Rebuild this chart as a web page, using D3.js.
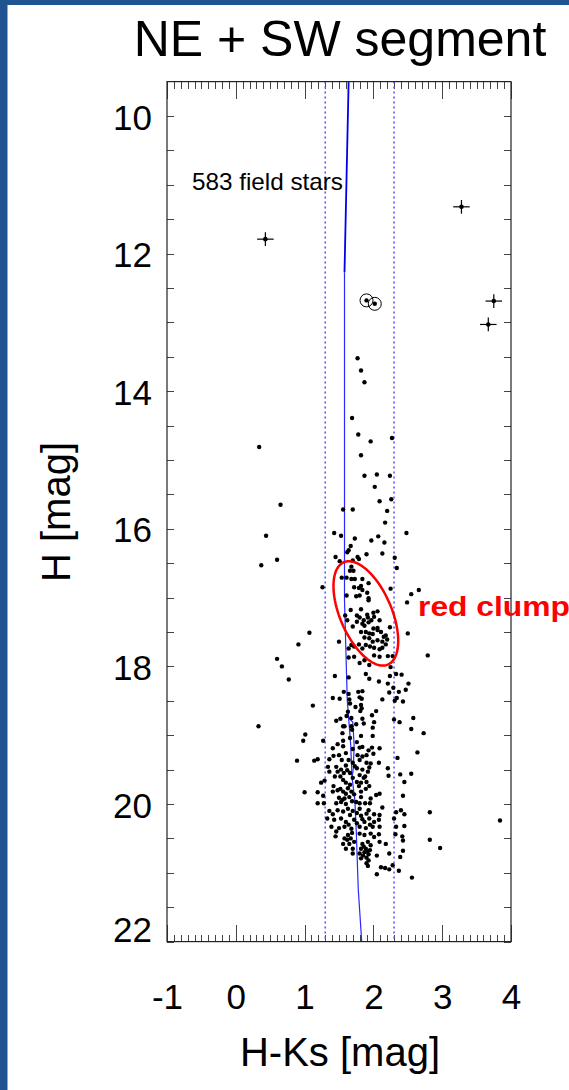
<!DOCTYPE html>
<html>
<head>
<meta charset="utf-8">
<script src="https://d3js.org/d3.v7.min.js"></script>
<style>
    body { margin: 0; padding: 0; }
    svg { display: block; font-family: "Liberation Sans", Arial, Helvetica, sans-serif; }
    .axis path { display: none; }
    .axis line { stroke: #444; stroke-width: 1; shape-rendering: crispEdges; }
    .axis text { fill: #000; font-size: 35px; }
</style>
</head>
<body>
<svg id="cmd" width="569" height="1090"></svg>
<script>
// ---- data (H-Ks colour, H magnitude) ----
var xTickLabels = [-1, 0, 1, 2, 3, 4];
var yTickLabels = [10, 12, 14, 16, 18, 20, 22];
var cutColors = [1.3, 2.3];

var fieldStars = [
  [1.77,13.52],[1.82,13.70],[1.87,13.87],[1.69,14.39],[1.78,14.63],[1.96,14.73],[2.27,14.68],[0.34,14.81],
  [1.82,14.93],[1.87,15.23],[2.05,15.21],[2.24,15.23],[2.02,15.39],[2.09,15.60],[2.26,15.57],[0.65,15.65],
  [1.56,15.72],[1.70,15.72],[2.20,15.74],[2.17,15.91],[0.44,16.10],[1.43,16.06],[1.53,16.10],[1.73,16.14],
  [2.48,16.06],[1.97,16.17],[2.07,16.11],[2.16,16.20],[1.67,16.25],[1.64,16.31],[1.62,16.34],[1.90,16.37],
  [2.13,16.36],[0.37,16.53],[0.60,16.45],[1.45,16.41],[1.51,16.47],[1.70,16.46],[1.77,16.41],[1.79,16.44],
  [2.31,16.42],[2.34,16.57],[1.68,16.55],[1.71,16.61],[1.66,16.61],[1.54,16.71],[1.61,16.71],[1.68,16.73],
  [1.73,16.73],[1.84,16.73],[1.93,16.79],[1.82,16.83],[1.79,16.86],[1.72,16.85],[1.84,16.89],[1.91,16.93],
  [1.26,16.85],[2.25,16.87],[2.55,16.95],[2.66,16.89],[2.49,17.07],[1.61,16.97],[1.75,16.98],[1.80,16.97],
  [1.93,17.01],[1.93,17.04],[1.67,17.18],[1.82,17.17],[2.00,17.22],[2.06,17.20],[1.59,17.26],[1.76,17.26],
  [1.80,17.29],[1.91,17.25],[1.92,17.29],[1.62,17.33],[1.86,17.33],[1.93,17.36],[1.70,17.42],[1.87,17.41],
  [2.06,17.44],[2.24,17.43],
  [1.97,17.33],[2.01,17.28],[2.09,17.33],[1.76,17.35],[1.84,17.38],[2.00,17.45],[2.06,17.47],[2.11,17.50],
  [2.15,17.57],[2.18,17.55],[1.82,17.50],[1.89,17.50],[1.94,17.52],[1.99,17.53],[1.87,17.58],[1.94,17.59],
  [1.99,17.64],[2.06,17.62],[2.13,17.64],[2.20,17.61],[1.68,17.69],[1.64,17.74],[1.72,17.71],[1.79,17.68],
  [1.84,17.74],[1.89,17.69],[1.95,17.71],[2.01,17.73],[2.09,17.75],[2.13,17.73],[2.18,17.68],[1.50,17.64],
  [1.64,17.87],[1.72,17.86],[1.80,17.95],[1.87,17.91],[1.94,17.98],[2.01,17.84],[2.09,17.86],[2.21,17.85],
  [2.28,17.85],[2.50,17.52],
  [1.07,17.51],[0.91,17.68],[0.60,17.89],[0.67,18.00],[0.77,18.19],[2.79,17.84],[2.25,18.01],
  [1.44,18.14],[1.64,18.16],[1.89,18.11],[1.94,18.18],[2.08,18.22],[2.24,18.14],[2.33,18.11],[2.41,18.12],
  [2.51,18.25],[2.47,18.34],[2.37,18.37],[2.29,18.31],[2.21,18.25],[2.23,18.38],[2.34,18.46],[2.31,18.50],
  [2.43,18.51],[2.13,18.48],[2.04,18.65],[1.84,18.36],[1.78,18.37],[1.57,18.37],[1.51,18.47],[1.41,18.46],
  [1.64,18.40],[1.65,18.48],[1.66,18.54],[1.80,18.45],[1.83,18.47],[1.12,18.57],[1.74,18.59],[1.82,18.56],
  [1.83,18.61],[1.81,18.65],[1.63,18.66],[1.61,18.72],[1.68,18.75],[1.75,18.84],[1.84,18.76],[1.86,18.83],
  [1.98,18.71],[2.01,18.81],[1.99,18.89],[1.52,18.76],[1.46,18.79],[1.56,18.87],[1.58,18.87],[1.68,18.87],
  [1.69,18.92],[1.55,18.97],[1.66,19.04],[1.76,19.10],[1.82,19.01],[1.99,19.01],[1.48,19.13],[1.56,19.08],
  [1.27,19.08],[1.01,18.99],[0.98,19.08],[2.30,18.77],[2.38,18.81],[2.58,18.75],[2.55,18.91],[2.73,18.97],
  [0.33,18.87],
  [1.41,19.19],[1.56,19.16],[1.80,19.18],[1.84,19.17],[1.98,19.18],[2.09,19.19],[0.89,19.37],[1.14,19.37],
  [1.19,19.35],[1.36,19.35],[1.42,19.30],[1.50,19.29],[1.60,19.26],[1.77,19.29],[1.84,19.31],[1.90,19.29],
  [2.00,19.27],[1.80,19.36],[1.90,19.40],[1.96,19.41],[2.08,19.40],[2.35,19.33],[2.64,19.25],[1.34,19.46],
  [1.46,19.46],[1.53,19.50],[1.60,19.44],[1.62,19.51],[1.36,19.53],[1.48,19.53],[1.57,19.55],[1.76,19.48],
  [1.84,19.50],[1.92,19.53],[1.94,19.47],[1.80,19.58],[1.88,19.60],[2.21,19.48],[2.22,19.59],[2.39,19.57],
  [2.55,19.56],[2.45,19.68],[1.24,19.69],[1.29,19.66],[1.56,19.65],[1.60,19.69],[1.66,19.72],[1.76,19.68],
  [1.82,19.69],[1.90,19.68],[1.94,19.74],[1.64,19.36],[1.66,19.55],[1.54,19.36],
  [1.70,19.40],[1.73,19.45],[1.70,19.62],[1.86,19.62],[1.52,19.60],[1.44,19.60],[1.70,19.20],[1.93,19.22],
  [1.00,19.83],[1.19,19.83],[1.27,19.88],[1.19,19.99],[1.28,19.99],[1.41,19.82],[1.42,19.74],[1.48,19.80],
  [1.56,19.82],[1.63,19.77],[1.68,19.82],[1.79,19.74],[1.82,19.82],[1.89,19.78],[1.50,19.91],[1.58,19.92],
  [1.65,19.90],[1.82,19.90],[1.96,19.92],[2.04,19.87],[2.09,19.85],[2.43,19.88],[1.46,19.99],[1.53,19.97],
  [1.60,20.00],[1.69,19.96],[1.80,19.99],[1.88,19.99],[1.95,19.99],[1.36,20.10],[1.41,20.15],[1.48,20.09],
  [1.56,20.11],[1.63,20.07],[1.66,20.16],[1.80,20.07],[1.82,20.17],[1.90,20.14],[1.93,20.09],[2.01,20.15],
  [2.13,20.05],[2.09,20.16],[2.33,20.12],[2.40,20.09],[2.45,20.15],[2.82,20.12],[1.33,20.21],[1.43,20.23],
  [1.53,20.21],[1.60,20.26],[1.72,20.23],[1.87,20.26],[1.94,20.21],[2.01,20.26],[2.08,20.23],[2.30,20.21],
  [1.39,20.33],[1.50,20.35],[1.58,20.33],[1.68,20.36],[1.80,20.33],[1.89,20.35],[1.99,20.33],[2.09,20.33],
  [2.33,20.33],[2.45,20.32],
  [1.52,19.78],[1.60,19.85],[1.72,19.86],[1.55,19.94],[1.75,19.97],[1.70,20.10],[1.76,20.13],[1.84,20.22],
  [1.76,20.28],[1.64,20.30],[1.95,20.30],
  [1.46,20.40],[1.45,20.47],[1.58,20.50],[1.63,20.45],[1.69,20.42],[1.80,20.43],[1.87,20.45],[1.96,20.43],
  [2.08,20.44],[2.01,20.48],[2.09,20.55],[2.18,20.58],[2.32,20.44],[2.42,20.47],[2.43,20.53],[2.82,20.52],
  [1.56,20.58],[1.65,20.58],[1.72,20.55],[1.84,20.58],[1.92,20.55],[1.96,20.60],[1.60,20.65],[1.70,20.65],
  [1.82,20.65],[1.89,20.65],[1.70,20.72],[1.80,20.72],[1.87,20.70],[1.93,20.73],[2.05,20.75],[2.23,20.72],
  [2.39,20.77],[2.43,20.68],[1.82,20.79],[1.90,20.78],[1.93,20.82],[1.90,20.86],[1.92,20.90],[2.28,20.89],
  [2.11,20.92],[2.17,20.93],[2.23,20.95],[2.37,20.97],[2.05,21.02],[2.56,21.07],
  [1.86,20.62],[1.91,20.69],[1.85,20.75],[1.95,20.67],[1.62,20.52],[1.67,20.50],
  [3.84,20.24],[2.97,20.64]
];

// bright stars with error bars
var errStars = [
  {c: 0.43, h: 11.79, ec: 0.12, eh: 0.10},
  {c: 3.28, h: 11.32, ec: 0.12, eh: 0.10},
  {c: 3.75, h: 12.69, ec: 0.12, eh: 0.10},
  {c: 3.67, h: 13.03, ec: 0.12, eh: 0.10}
];
// circled stars
var circledStars = [[1.90, 12.68], [2.02, 12.73]];

// isochrone (upper bright part, lower main part, small loop)
var isoUpper = [[1.64, 9.5], [1.58, 12.27]];
var isoLower = [[1.58, 12.27], [1.58, 15.58], [1.58, 17.04], [1.62, 18.49], [1.64, 18.75], [1.67, 19.14],
                [1.69, 19.62], [1.73, 19.94], [1.75, 20.37], [1.78, 21.24], [1.83, 22.0]];
var isoLoop = [[1.64, 18.75], [1.70, 18.81], [1.72, 19.14], [1.71, 19.47], [1.69, 19.62]];

// red clump ellipse: centre, semi axes (mag), tilt (deg)
var clumpCentre = [1.89, 17.23];
var clumpAxes = [0.81, 0.375];
var clumpTilt = 66.7;

// ---- layout ----
var svg = d3.select("#cmd");
var W = 569, H = 1090;
var plot = {left: 167, right: 511, top: 81.6, bottom: 941.6};

var x = d3.scaleLinear().domain([-1, 4]).range([plot.left, plot.right]);
var y = d3.scaleLinear().domain([9.5, 22]).range([plot.top, plot.bottom]);

// slide background
svg.append("rect").attr("width", W).attr("height", H).attr("fill", "#1f5391");
svg.append("rect").attr("x", 7.5).attr("y", 5).attr("width", W - 7.5).attr("height", H - 5).attr("fill", "#fff");

// title
svg.append("text")
    .attr("x", 340).attr("y", 56)
    .attr("text-anchor", "middle")
    .style("font-size", "50px")
    .text("NE + SW segment");

// y axes (ticks every 0.5 mag, pointing inwards)
var yTicks = d3.range(10, 22.001, 0.5);
svg.append("g").attr("class", "axis")
    .attr("transform", "translate(" + plot.left + ",0)")
    .call(d3.axisLeft(y).tickValues(yTicks).tickSizeInner(-7).tickSizeOuter(0).tickPadding(15)
        .tickFormat(function(d) { return yTickLabels.indexOf(d) >= 0 ? String(d) : ""; }))
    .selectAll("text")
    .attr("dy", null)
    .attr("y", function(d) { return Math.min(13, plot.bottom - y(d)); });

svg.append("g").attr("class", "axis")
    .attr("transform", "translate(" + plot.right + ",0)")
    .call(d3.axisRight(y).tickValues(yTicks).tickSizeInner(-7).tickSizeOuter(0).tickFormat(""));

// x axes: minor every 0.1, major at integers
var xMinor = d3.range(-1, 4.0001, 0.1).map(function(d) { return Math.round(d * 10) / 10; });
svg.append("g").attr("class", "axis")
    .attr("transform", "translate(0," + plot.bottom + ")")
    .call(d3.axisBottom(x).tickValues(xMinor).tickSizeInner(-7).tickSizeOuter(0).tickFormat(""));
svg.append("g").attr("class", "axis")
    .attr("transform", "translate(0," + plot.bottom + ")")
    .call(d3.axisBottom(x).tickValues(xTickLabels).tickSizeInner(-17).tickSizeOuter(0).tickPadding(43)
        .tickFormat(function(d) { return String(d); }));
svg.append("g").attr("class", "axis")
    .attr("transform", "translate(0," + plot.top + ")")
    .call(d3.axisTop(x).tickValues(xMinor).tickSizeInner(-7).tickSizeOuter(0).tickFormat(""));
svg.append("g").attr("class", "axis")
    .attr("transform", "translate(0," + plot.top + ")")
    .call(d3.axisTop(x).tickValues(xTickLabels).tickSizeInner(-17).tickSizeOuter(0).tickFormat(""));

// axis titles
svg.append("text")
    .attr("x", 340).attr("y", 1066)
    .attr("text-anchor", "middle")
    .style("font-size", "40px")
    .text("H-Ks [mag]");
svg.append("text")
    .attr("transform", "translate(70," + 512 + ") rotate(-90)")
    .attr("text-anchor", "middle")
    .style("font-size", "40px")
    .text("H [mag]");

// colour cut lines
svg.selectAll(".cut").data(cutColors).enter().append("line")
    .attr("class", "cut")
    .attr("x1", function(d) { return x(d); }).attr("x2", function(d) { return x(d); })
    .attr("y1", plot.top).attr("y2", plot.bottom)
    .attr("stroke", "#5a5aff").attr("stroke-width", 1.6)
    .attr("stroke-dasharray", "2,3");

// isochrone
var line = d3.line().x(function(d) { return x(d[0]); }).y(function(d) { return y(d[1]); });
svg.append("path").datum(isoUpper).attr("d", line)
    .attr("fill", "none").attr("stroke", "#0000ee").attr("stroke-width", 1.8);
svg.append("path").datum(isoLower).attr("d", line)
    .attr("fill", "none").attr("stroke", "#2828ff").attr("stroke-width", 1.2);
svg.append("path").datum(isoLoop).attr("d", line)
    .attr("fill", "none").attr("stroke", "#2828ff").attr("stroke-width", 1.2);

// field stars
svg.append("g").selectAll("circle").data(fieldStars).enter().append("circle")
    .attr("cx", function(d) { return x(d[0]); })
    .attr("cy", function(d) { return y(d[1]); })
    .attr("r", 2.2)
    .attr("fill", "#000");

// stars with error bars
var eb = svg.append("g").selectAll("g").data(errStars).enter().append("g");
eb.append("line")
    .attr("x1", function(d) { return x(d.c - d.ec); }).attr("x2", function(d) { return x(d.c + d.ec); })
    .attr("y1", function(d) { return y(d.h); }).attr("y2", function(d) { return y(d.h); })
    .attr("stroke", "#000").attr("stroke-width", 1.2);
eb.append("line")
    .attr("x1", function(d) { return x(d.c); }).attr("x2", function(d) { return x(d.c); })
    .attr("y1", function(d) { return y(d.h - d.eh); }).attr("y2", function(d) { return y(d.h + d.eh); })
    .attr("stroke", "#000").attr("stroke-width", 1.2);
eb.append("circle")
    .attr("cx", function(d) { return x(d.c); }).attr("cy", function(d) { return y(d.h); })
    .attr("r", 2.3).attr("fill", "#000");

// circled stars
var cs = svg.append("g").selectAll("g").data(circledStars).enter().append("g");
cs.append("circle")
    .attr("cx", function(d) { return x(d[0]); }).attr("cy", function(d) { return y(d[1]); })
    .attr("r", 6.5).attr("fill", "none").attr("stroke", "#000").attr("stroke-width", 1);
cs.append("circle")
    .attr("cx", function(d) { return x(d[0]); }).attr("cy", function(d) { return y(d[1]); })
    .attr("r", 2.2).attr("fill", "#000");

// red clump ellipse
var t = clumpTilt * Math.PI / 180;
var ell = d3.range(0, 361, 4).map(function(a) {
    var r = a * Math.PI / 180;
    var u = clumpAxes[0] * Math.cos(r), v = clumpAxes[1] * Math.sin(r);
    return [clumpCentre[0] + u * Math.cos(t) - v * Math.sin(t),
            clumpCentre[1] + u * Math.sin(t) + v * Math.cos(t)];
});
svg.append("path").datum(ell).attr("d", line)
    .attr("fill", "none").attr("stroke", "#ff0000").attr("stroke-width", 2.5);

// frame
svg.append("rect")
    .attr("x", plot.left).attr("y", plot.top)
    .attr("width", plot.right - plot.left).attr("height", plot.bottom - plot.top)
    .attr("fill", "none").attr("stroke", "#222").attr("stroke-width", 1.2);

// annotations
svg.append("text")
    .attr("x", 192).attr("y", 190)
    .style("font-size", "24px")
    .attr("textLength", 151).attr("lengthAdjust", "spacingAndGlyphs")
    .text("583 field stars");
svg.append("text")
    .attr("x", 418).attr("y", 616)
    .style("font-size", "28px").style("font-weight", "bold")
    .attr("fill", "#ff0000")
    .attr("textLength", 152).attr("lengthAdjust", "spacingAndGlyphs")
    .text("red clump");
</script>
</body>
</html>
